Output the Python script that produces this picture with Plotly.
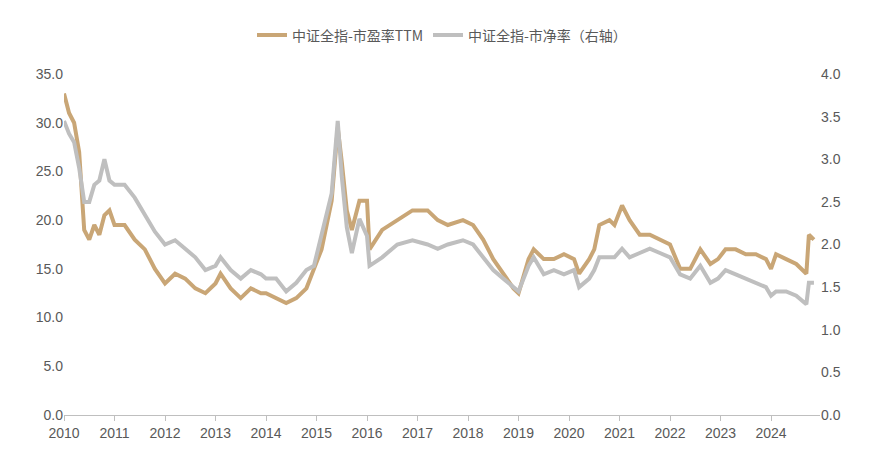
import plotly.graph_objects as go

# decimal-year positions
pe_x = [2010.0, 2010.1, 2010.2, 2010.3, 2010.4, 2010.5, 2010.6, 2010.7, 2010.8, 2010.9, 2011.0, 2011.2, 2011.4, 2011.6, 2011.8,
        2012.0, 2012.2, 2012.4, 2012.6, 2012.8, 2013.0, 2013.1, 2013.3, 2013.5, 2013.7, 2013.9, 2014.0, 2014.2, 2014.4, 2014.6,
        2014.8, 2014.95, 2015.1, 2015.3, 2015.42, 2015.5, 2015.6, 2015.7, 2015.85, 2016.0, 2016.05, 2016.3, 2016.6, 2016.9,
        2017.2, 2017.4, 2017.6, 2017.9, 2018.1, 2018.3, 2018.5, 2018.7, 2018.9, 2019.0, 2019.2, 2019.3, 2019.5, 2019.7, 2019.9,
        2020.1, 2020.2, 2020.4, 2020.5, 2020.6, 2020.8, 2020.9, 2021.05, 2021.2, 2021.4, 2021.6, 2021.8, 2022.0, 2022.2, 2022.4,
        2022.6, 2022.8, 2022.95, 2023.1, 2023.3, 2023.5, 2023.7, 2023.9, 2024.0, 2024.1, 2024.3, 2024.5, 2024.7, 2024.75, 2024.85]
pe = [33, 31, 30, 27, 19, 18, 19.5, 18.5, 20.5, 21, 19.5, 19.5, 18, 17, 15,
      13.5, 14.5, 14, 13, 12.5, 13.5, 14.5, 13, 12, 13, 12.5, 12.5, 12, 11.5, 12,
      13, 15, 17, 22, 29.5, 26, 21, 19, 22, 22, 17, 19, 20, 21,
      21, 20, 19.5, 20, 19.5, 18, 16, 14.5, 13, 12.5, 16, 17, 16, 16, 16.5,
      16, 14.5, 16, 17, 19.5, 20, 19.5, 21.5, 20, 18.5, 18.5, 18, 17.5, 15, 15,
      17, 15.5, 16, 17, 17, 16.5, 16.5, 16, 15, 16.5, 16, 15.5, 14.5, 18.5, 18]
pb = [3.45, 3.3, 3.2, 2.9, 2.5, 2.5, 2.7, 2.75, 3.0, 2.75, 2.7, 2.7, 2.55, 2.35, 2.15,
      2.0, 2.05, 1.95, 1.85, 1.7, 1.75, 1.85, 1.7, 1.6, 1.7, 1.65, 1.6, 1.6, 1.45, 1.55,
      1.7, 1.75, 2.1, 2.6, 3.45, 2.8, 2.2, 1.9, 2.3, 2.1, 1.75, 1.85, 2.0, 2.05,
      2.0, 1.95, 2.0, 2.05, 2.0, 1.85, 1.7, 1.6, 1.5, 1.45, 1.75, 1.85, 1.65, 1.7, 1.65,
      1.7, 1.5, 1.6, 1.7, 1.85, 1.85, 1.85, 1.95, 1.85, 1.9, 1.95, 1.9, 1.85, 1.65, 1.6,
      1.75, 1.55, 1.6, 1.7, 1.65, 1.6, 1.55, 1.5, 1.4, 1.45, 1.45, 1.4, 1.3, 1.55, 1.55]
years = list(range(2010, 2025))

fig = go.Figure()
fig.add_trace(go.Scatter(x=pe_x, y=pe, name="中证全指-市盈率TTM", mode="lines",
                         line=dict(color="#C9A676", width=4)))
fig.add_trace(go.Scatter(x=pe_x, y=pb, name="中证全指-市净率（右轴）", mode="lines",
                         line=dict(color="#BFBFBF", width=4), yaxis="y2"))

fig.update_layout(
    width=870, height=462,
    margin=dict(l=56, r=58, t=58, b=55),
    plot_bgcolor="white", paper_bgcolor="white",
    font=dict(family="Liberation Sans, Noto Sans CJK SC", size=14, color="#595959"),
    legend=dict(orientation="h", x=0.5, xanchor="center", y=1.16, yanchor="top",
                font=dict(size=14, family="Noto Sans CJK SC")),
    xaxis=dict(range=[2010, 2024.97], tickvals=years, ticktext=[str(y) for y in years],
               showgrid=False, showline=True, linecolor="#BFBFBF", ticks="outside",
               tickcolor="#BFBFBF", ticklen=5),
    yaxis=dict(range=[0, 35], dtick=5, tickformat=".1f", showgrid=False, zeroline=False),
    yaxis2=dict(range=[0, 4], dtick=0.5, tickformat=".1f", overlaying="y", side="right",
                showgrid=False, zeroline=False),
)
fig.write_html("out.html")
